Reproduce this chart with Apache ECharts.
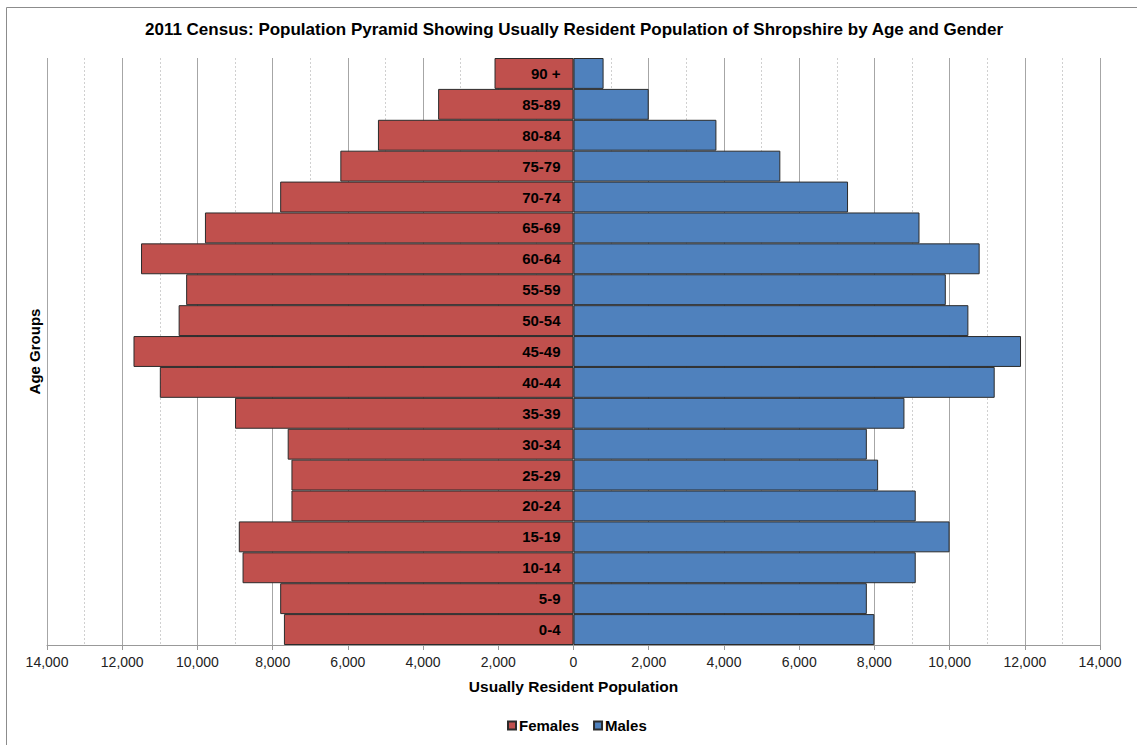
<!DOCTYPE html>
<html>
<head>
<meta charset="utf-8">
<script src="https://cdn.jsdelivr.net/npm/echarts@6/dist/echarts.min.js"></script>
<style>html,body{margin:0;padding:0;background:#fff;}#c{width:1137px;height:745px;}</style>
</head>
<body>
<div id="c"></div>
<script>
var ageGroups = ['0-4','5-9','10-14','15-19','20-24','25-29','30-34','35-39','40-44','45-49','50-54','55-59','60-64','65-69','70-74','75-79','80-84','85-89','90 +'];
var females = [7700, 7800, 8800, 8900, 7500, 7500, 7600, 9000, 11000, 11700, 10500, 10300, 11500, 9800, 7800, 6200, 5200, 3600, 2100];
var males = [8000, 7800, 9100, 10000, 9100, 8100, 7800, 8800, 11200, 11900, 10500, 9900, 10800, 9200, 7300, 5500, 3800, 2000, 800];
var xTicks = {min: -14000, max: 14000, interval: 2000};

var font = '"Liberation Sans", Arial, sans-serif';
var chart = echarts.init(document.getElementById('c'), null, {renderer: 'svg'});
chart.setOption({
  backgroundColor: '#fff',
  animation: false,
  title: {
    text: '2011 Census: Population Pyramid Showing Usually Resident Population of Shropshire by Age and Gender',
    left: 574, textAlign: 'center', top: 21, padding: 0,
    textStyle: {fontFamily: font, fontSize: 17, fontWeight: 'bold', color: '#000'}
  },
  legend: {
    data: ['Females', 'Males'],
    left: 507, top: 718, padding: 0,
    icon: 'rect', itemWidth: 8, itemHeight: 8, itemGap: 14,
    textStyle: {fontFamily: font, fontSize: 15, fontWeight: 'bold', color: '#000', padding: [0, 0, 0, -2]}
  },
  grid: {left: 47, right: 37, top: 58, bottom: 100, containLabel: false, outerBoundsMode: 'none'},
  xAxis: {
    type: 'value',
    min: xTicks.min, max: xTicks.max, interval: xTicks.interval,
    name: 'Usually Resident Population',
    nameLocation: 'middle', nameGap: 33,
    nameTextStyle: {fontFamily: font, fontSize: 15.5, fontWeight: 'bold', color: '#000'},
    axisLine: {show: true, onZero: false, lineStyle: {color: '#999', width: 1}},
    axisTick: {show: true, length: 5, lineStyle: {color: '#999'}},
    axisLabel: {
      fontFamily: font, fontSize: 14, color: '#222', margin: 10,
      formatter: function (v) { return Math.abs(v).toLocaleString('en-US'); }
    },
    splitLine: {show: true, lineStyle: {color: '#a6a6a6', width: 1}},
    minorTick: {show: false, splitNumber: 2},
    minorSplitLine: {show: true, lineStyle: {color: '#d0d0d0', type: [2, 2], width: 1}}
  },
  yAxis: {
    type: 'category',
    data: ageGroups,
    name: 'Age Groups',
    nameLocation: 'middle', nameGap: 5, nameRotate: 90,
    nameTextStyle: {fontFamily: font, fontSize: 15, fontWeight: 'bold', color: '#000'},
    axisLine: {show: false},
    axisTick: {show: false},
    splitLine: {show: false},
    axisLabel: {show: false}
  },
  graphic: [
    {
      type: 'rect', silent: true, z: -10,
      shape: {x: 6.5, y: 7.5, width: 1140, height: 750},
      style: {fill: 'none', stroke: '#8c8c8c', lineWidth: 1}
    }
  ],
  series: [
    {
      name: 'Females', type: 'bar',
      data: females.map(function (v) { return -v; }),
      barGap: '-100%', barCategoryGap: 0,
      itemStyle: {color: '#C0504D', borderColor: '#2b2b2b', borderWidth: 1},
      label: {
        show: true, position: 'insideRight', distance: 13,
        formatter: function (p) { return p.name; },
        fontFamily: font, fontSize: 15, fontWeight: 'bold', color: '#000'
      },
      z: 3
    },
    {
      name: 'Males', type: 'bar',
      data: males,
      barGap: '-100%', barCategoryGap: 0,
      itemStyle: {color: '#4F81BD', borderColor: '#2b2b2b', borderWidth: 1},
      z: 2
    }
  ]
});
</script>
</body>
</html>
